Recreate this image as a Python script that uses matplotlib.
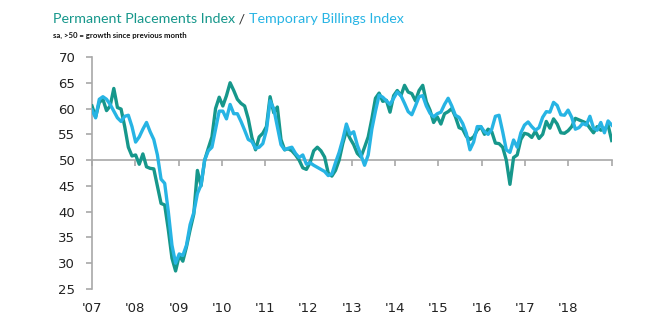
import numpy as np
import matplotlib
matplotlib.use("Agg")
import matplotlib.pyplot as plt

# monthly index values, Jan 2007 - Dec 2018
permanent = [
    60.5, 58.4, 61.2, 61.8, 59.6, 60.5, 63.9, 60.2, 59.9, 56.5, 52.5, 50.8,  # 2007
    51.0, 49.2, 51.2, 48.7, 48.4, 48.3, 45.0, 41.6, 41.3, 36.5, 31.0, 28.5,  # 2008
    31.5, 30.4, 33.2, 36.5, 39.5, 48.0, 45.0, 50.0, 52.3, 54.5, 60.0, 62.2,  # 2009
    60.5, 62.5, 65.0, 63.5, 61.8, 61.0, 60.5, 58.0, 54.4, 52.0, 54.5, 55.2,  # 2010
    56.5, 62.3, 59.2, 60.3, 54.0, 52.0, 52.2, 51.8, 51.0, 50.0, 48.5, 48.2,  # 2011
    49.5, 51.8, 52.5, 51.8, 50.6, 47.5, 46.9, 48.0, 50.0, 53.2, 55.7, 54.2,  # 2012
    53.0, 51.3, 50.6, 52.5, 54.5, 58.0, 62.0, 63.0, 61.4, 61.6, 59.3, 62.5,  # 2013
    63.5, 62.5, 64.5, 63.2, 62.9, 61.5, 63.5, 64.5, 61.3, 59.7, 57.3, 58.4,  # 2014
    57.0, 59.0, 59.4, 60.0, 58.4, 56.3, 56.0, 54.6, 54.0, 54.5, 55.8, 56.5,  # 2015
    55.0, 56.0, 55.5, 53.3, 53.2, 52.5, 50.0, 45.3, 50.5, 51.0, 54.0, 55.2,  # 2016
    55.0, 54.4, 55.6, 54.2, 55.0, 57.5, 56.2, 58.0, 57.0, 55.3, 55.2, 55.7,  # 2017
    56.5, 58.1, 57.8, 57.5, 57.2, 56.2, 55.3, 56.5, 55.8, 56.0, 56.8, 53.8,  # 2018
]
temporary = [
    59.7, 58.2, 61.8, 62.3, 61.8, 60.8, 59.5, 58.2, 57.5, 58.5, 58.7, 56.5,  # 2007
    53.5, 54.5, 56.0, 57.3, 55.5, 54.0, 51.0, 46.3, 45.5, 40.0, 33.5, 30.0,  # 2008
    31.8, 31.5, 33.5, 37.5, 39.8, 43.5, 45.2, 50.0, 51.8, 52.5, 56.0, 59.5,  # 2009
    59.5, 58.0, 60.8, 59.0, 59.0, 57.5, 55.8, 54.0, 53.6, 52.3, 52.5, 53.2,  # 2010
    55.8, 61.5, 60.0, 56.5, 53.0, 52.0, 52.3, 52.5, 51.3, 50.5, 51.0, 49.2,  # 2011
    49.5, 49.0, 48.6, 48.2, 47.8, 47.0, 47.3, 49.5, 51.5, 54.0, 57.0, 55.0,  # 2012
    55.5, 52.9, 51.0, 49.0, 51.0, 56.0, 59.5, 62.6, 62.2, 61.5, 60.8, 62.0,  # 2013
    63.2, 62.5, 61.0, 59.4, 58.8, 60.5, 62.3, 62.5, 60.5, 59.1, 58.4, 59.0,  # 2014
    59.3, 60.8, 62.0, 60.5, 58.7, 58.3, 57.1, 55.2, 52.0, 53.5, 56.5, 56.5,  # 2015
    55.5, 55.0, 56.0, 58.5, 58.7, 55.5, 52.0, 51.5, 53.9, 52.5, 55.3, 56.8,  # 2016
    57.4, 56.5, 55.8, 56.3, 58.3, 59.4, 59.3, 61.2, 60.6, 58.8, 58.7, 59.7,  # 2017
    58.3, 56.0, 56.3, 57.1, 56.8, 58.5, 56.2, 55.8, 57.3, 55.3, 57.6, 56.8,  # 2018
]
years = list(range(2007, 2019))
year_labels = ["'07", "'08", "'09", "'10", "'11", "'12", "'13", "'14", "'15", "'16", "'17", "'18"]
y_ticks = [25, 30, 35, 40, 45, 50, 55, 60, 65, 70]

teal = '#16978b'
blue = '#27b4e4'
grey = '#a8a8a8'

fig = plt.figure(figsize=(6.7, 3.32), dpi=100)
ax = fig.add_axes([92 / 670, 1 - 289 / 332, (611.7 - 92) / 670, (289 - 57) / 332])

# months spread evenly over the 12 year span
t = years[0] + np.linspace(0, len(years), len(permanent))
ax.plot(t, permanent, color=teal, lw=2.4, solid_joinstyle='round', zorder=3)
ax.plot(t, temporary, color=blue, lw=2.4, solid_joinstyle='round', zorder=4)

ax.set_xlim(years[0], years[-1] + 1)
ax.set_ylim(25, 70)

for s in ['top', 'right']:
    ax.spines[s].set_visible(False)
ax.spines['left'].set_color(grey)
ax.spines['left'].set_linewidth(1.2)
ax.spines['bottom'].set_position(('data', 50))
ax.spines['bottom'].set_color(grey)
ax.spines['bottom'].set_linewidth(1.2)

ax.set_yticks(y_ticks)
ax.tick_params(axis='y', length=4, width=1.2, color=grey, pad=8, labelsize=9.5, labelcolor='#222222')
ax.set_xticks(years + [years[-1] + 1])
ax.tick_params(axis='x', length=4, width=1.2, color=grey, labelbottom=False)

sec = ax.secondary_xaxis('bottom')
sec.set_xticks(years, year_labels)
sec.tick_params(length=0, pad=9, labelsize=9.5, labelcolor='#222222')
sec.spines['bottom'].set_visible(False)

# two-colour title
ty = 1 - 19 / 332
t1 = fig.text(53 / 670, ty, 'Permanent Placements Index', color=teal,
              fontsize=10.3, family='Lato', va='center')
fig.canvas.draw()
r = fig.canvas.get_renderer()
bb = t1.get_window_extent(r)
t2 = fig.text(bb.x1 / 670, ty, ' / ', color='#333333', fontsize=10.3, family='Lato', va='center')
bb = t2.get_window_extent(r)
fig.text(bb.x1 / 670, ty, 'Temporary Billings Index', color=blue,
         fontsize=10.3, family='Lato', va='center')
fig.text(53 / 670, 1 - 35 / 332, 'sa, >50 = growth since previous month', color='#111111',
         fontsize=5.6, family='Lato', fontweight='bold', va='center')

fig.savefig('out.png', dpi=100)
